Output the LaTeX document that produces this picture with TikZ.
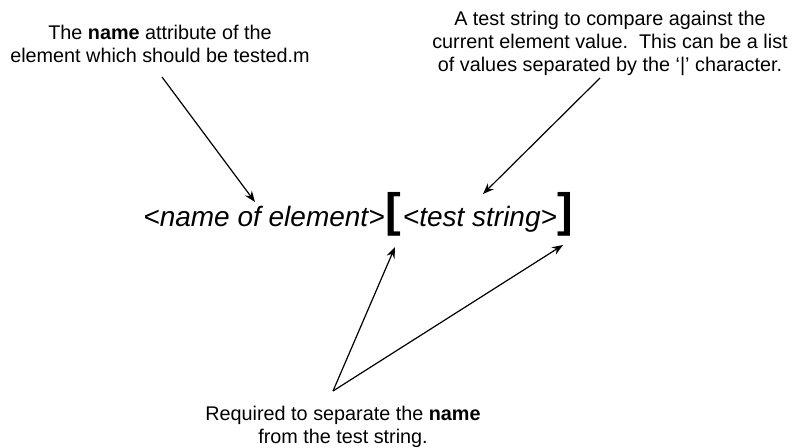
\documentclass[tikz,border=0pt]{standalone}
\usepackage{fontspec}
\setmainfont{Liberation Sans}
\usetikzlibrary{arrows.meta}

\begin{document}
\begin{tikzpicture}[x=0.5pt,y=-0.5pt,
	note/.style={align=center,anchor=base,inner sep=0pt,font=\fontsize{9.9}{11.5}\selectfont},
	code/.style={anchor=base west,inner sep=0pt,font=\fontsize{14}{16}\selectfont\itshape},
	brack/.style={anchor=base west,inner sep=0pt,font=\fontsize{23.5}{26}\selectfont\bfseries},
	pointer/.style={-{Stealth[length=5.5pt,width=4.2pt]},line width=0.6pt}]
	\useasboundingbox (0,0) rectangle (795,448);
	% the syntax line
	\node[code] (elem) at (143,227) {<name of element>};
	\node[brack] (lbr) at (elem.base east) {[};
	\node[code] (test) at ([xshift=0.5pt]lbr.base east) {<test string>};
	\node[brack] (rbr) at (test.base east) {]};
	% the notes (base = last line)
	\node[note] (elemnote) at (160,63) {The \textbf{name} attribute of the\\element which should be tested.m};
	\node[note] (testnote) at (610,72) {A test string to compare against the\\current element value.\ \ This can be a list\\of values separated by the `|' character.};
	\node[note] (sepnote) at (343,443) {Required to separate the \textbf{name}\\from the test string.};
	% arrow ends
	\coordinate (elemfoot) at (162,77);
	\coordinate (elemhead) at (255,202);
	\coordinate (testfoot) at (600,78);
	\coordinate (testhead) at (483,194);
	\coordinate (sepapex) at (333,391);
	\coordinate (lbrhead) at (395,247);
	\coordinate (rbrhead) at (563,245);
	\draw[pointer] (elemfoot) -- (elemhead);
	\draw[pointer] (testfoot) -- (testhead);
	\draw[pointer] (sepapex) -- (lbrhead);
	\draw[pointer] (sepapex) -- (rbrhead);
\end{tikzpicture}
\end{document}
